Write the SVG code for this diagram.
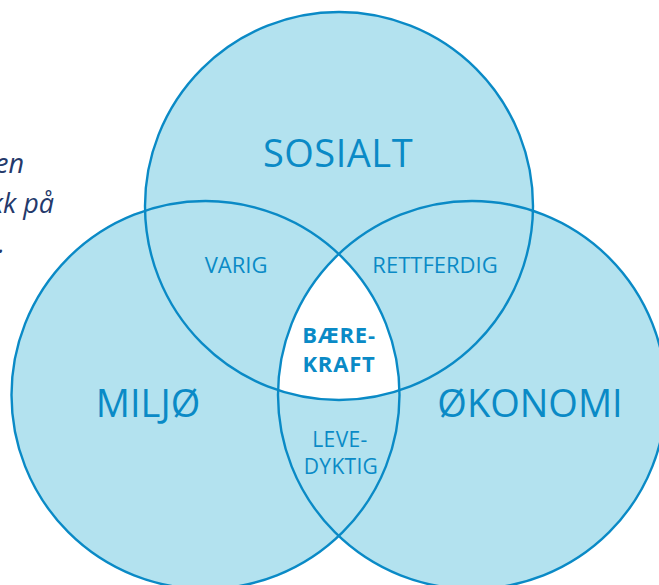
<svg xmlns="http://www.w3.org/2000/svg" width="659" height="585" viewBox="0 0 659 585">
<style>
.fill{fill:#b3e2ef;stroke:none}
.ring{fill:none;stroke:#0a8ac6;stroke-width:2.4}
.big{font-family:"Open Sans","Noto Sans",sans-serif;font-size:38px;fill:#0a8ac6;text-anchor:middle}
.mid{font-family:"Open Sans","Noto Sans",sans-serif;font-size:22px;fill:#0a8ac6;text-anchor:middle}
.small{font-family:"Open Sans","Noto Sans",sans-serif;font-size:21px;fill:#0a8ac6;text-anchor:middle}
.bold{font-family:"Open Sans","Noto Sans",sans-serif;font-size:22px;font-weight:bold;letter-spacing:0.8px;fill:#0a8ac6;text-anchor:middle}
.side{font-family:"Open Sans","Noto Sans",sans-serif;font-size:27px;font-style:italic;fill:#24396b;text-anchor:end}
</style>
<rect width="659" height="585" fill="#ffffff"/>
<g id="side-text">
<text class="side" x="24" y="173">en</text>
<text class="side" x="54" y="213">kk på</text>
<text class="side" x="5" y="253">.</text>
</g>
<g id="fills">
<circle class="fill" cx="339" cy="206" r="194"/>
<circle class="fill" cx="205.5" cy="395" r="194"/>
<circle class="fill" cx="472" cy="395" r="194"/>
<path d="M338.75,254 A194,194 0 0 0 278.1,390.3 A194,194 0 0 0 399.4,390.3 A194,194 0 0 0 338.75,254 Z" fill="#ffffff"/>
</g>
<g id="sosialt">
<circle class="ring" cx="339" cy="206" r="194"/>
<text class="big" x="338" y="167" letter-spacing="0.5">SOSIALT</text>
</g>
<g id="miljo">
<circle class="ring" cx="205.5" cy="395" r="194"/>
<text class="big" x="148" y="417">MILJØ</text>
</g>
<g id="okonomi">
<circle class="ring" cx="472" cy="395" r="194"/>
<text class="big" x="530" y="417">ØKONOMI</text>
</g>
<g id="varig"><text class="mid" x="236" y="273">VARIG</text></g>
<g id="rettferdig"><text class="mid" x="435" y="273">RETTFERDIG</text></g>
<g id="levedyktig"><text class="small" x="340" y="447" letter-spacing="0.4">LEVE-</text><text class="small" x="341" y="474" letter-spacing="0.3">DYKTIG</text></g>
<g id="baerekraft"><text class="bold" x="339" y="343">BÆRE-</text><text class="bold" x="339" y="372">KRAFT</text></g>
</svg>
